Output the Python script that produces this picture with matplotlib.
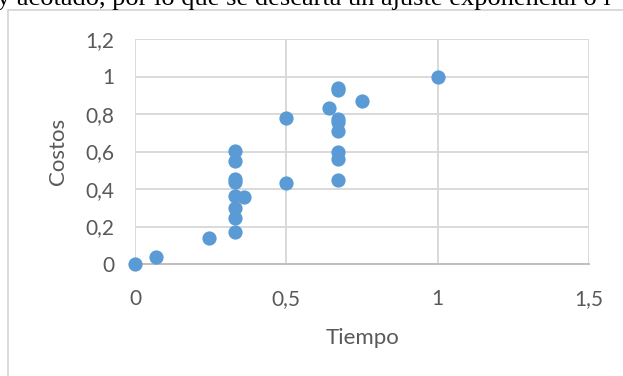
import matplotlib
matplotlib.use("Agg")
import matplotlib.pyplot as plt
from matplotlib.lines import Line2D
from matplotlib.ticker import FuncFormatter

# data
tiempo = [0, 0.07, 0.245, 0.33, 0.33, 0.33, 0.33, 0.33, 0.33, 0.33, 0.33, 0.36,
          0.5, 0.5, 0.64, 0.67, 0.67, 0.67, 0.67, 0.67, 0.67, 0.67, 0.67, 0.75, 1.0]
costos = [0, 0.035, 0.14, 0.605, 0.55, 0.455, 0.435, 0.365, 0.30, 0.245, 0.17, 0.36,
          0.78, 0.43, 0.83, 0.94, 0.93, 0.775, 0.755, 0.71, 0.60, 0.56, 0.45, 0.87, 1.0]
x_ticks = [0, 0.5, 1, 1.5]
y_ticks = [0, 0.2, 0.4, 0.6, 0.8, 1, 1.2]

W, H = 623, 376
fig = plt.figure(figsize=(W / 100, H / 100), dpi=100)
ax = fig.add_axes([135 / W, 1 - 264 / H, (589 - 135) / W, (264 - 39) / H])

grid_c = "#D9D9D9"
txt_c = "#595959"
font = ["Lato", "DejaVu Sans"]

ax.scatter(tiempo, costos, s=105, color="#5B9BD5", zorder=3, clip_on=False, linewidths=0)

ax.set_xlim(0, 1.5)
ax.set_ylim(0, 1.2)
ax.set_xticks(x_ticks)
ax.set_yticks(y_ticks)
fmt = FuncFormatter(lambda v, p: ("%g" % v).replace(".", ","))
ax.xaxis.set_major_formatter(fmt)
ax.yaxis.set_major_formatter(fmt)
ax.grid(True, color=grid_c, linewidth=1.4, zorder=0)
ax.set_axisbelow(True)
for s in ["top", "right", "left"]:
    ax.spines[s].set_visible(False)
ax.spines["bottom"].set_color("#BFBFBF")
ax.spines["bottom"].set_linewidth(1.4)
ax.tick_params(length=0, colors=txt_c, labelsize=15)
ax.tick_params(axis="y", pad=15)
ax.tick_params(axis="x", pad=18)
for lab in ax.get_xticklabels() + ax.get_yticklabels():
    lab.set_family(font)

ax.set_xlabel("Tiempo", fontsize=16, color=txt_c, family=font, labelpad=14)
ax.set_ylabel("Costos", fontsize=16, color=txt_c, family=font, labelpad=12)

# chart frame (cut off at right and bottom)
fig.add_artist(Line2D([8 / W, 8 / W], [0, 1 - 10 / H], transform=fig.transFigure,
                      color="#D9D9D9", linewidth=1.4))
fig.add_artist(Line2D([8 / W, 1], [1 - 10 / H, 1 - 10 / H], transform=fig.transFigure,
                      color="#D9D9D9", linewidth=1.4))

# document text above the chart, cut off
fig.text(-3 / W, 1 - 5 / H, "y acotado, por lo que se descarta un ajuste exponencial o l",
         fontsize=19, family="Liberation Serif", color="black", va="baseline", ha="left")

fig.savefig("out.png", dpi=100)
